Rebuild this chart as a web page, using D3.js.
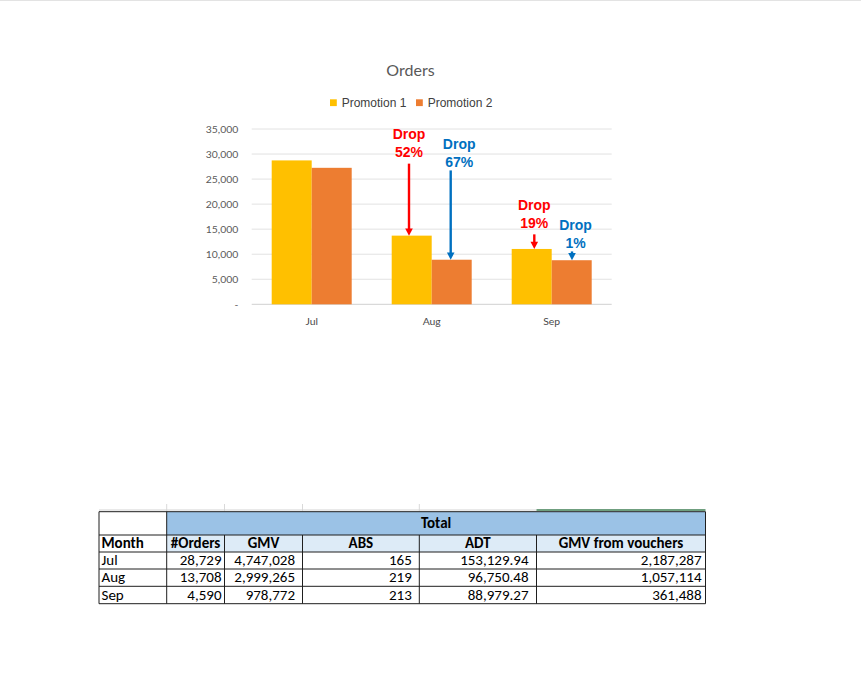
<!DOCTYPE html>
<html>
<head>
<meta charset="utf-8">
<script src="https://cdn.jsdelivr.net/npm/d3@7"></script>
<style>
  html, body { margin: 0; padding: 0; background: #fff; }
  svg { display: block; }
</style>
</head>
<body>
<svg id="c" width="861" height="696"></svg>
<script>
// ---------- DATA ----------
const months = ["Jul", "Aug", "Sep"];
const seriesNames = ["Promotion 1", "Promotion 2"];
const promo1 = [28729, 13708, 11050];
const promo2 = [27250, 8900, 8800];
const yTicks = [0, 5000, 10000, 15000, 20000, 25000, 30000, 35000];
const dropLabels1 = [null, ["Drop", "52%"], ["Drop", "19%"]];
const dropLabels2 = [null, ["Drop", "67%"], ["Drop", "1%"]];

const tableMonths = ["Jul", "Aug", "Sep"];
const tableGroup = "Total";
const tableHeaders = ["Month", "#Orders", "GMV", "ABS", "ADT", "GMV from vouchers"];
const orders = [28729, 13708, 4590];
const gmv = [4747028, 2999265, 978772];
const absVals = [165, 219, 213];
const adt = [153129.94, 96750.48, 88979.27];
const gmvVouchers = [2187287, 1057114, 361488];

// ---------- STYLE ----------
const colors = ["#FFC000", "#ED7D31"];
const annColors = ["#FF0000", "#0070C0"];
const svg = d3.select("#c");

// top page line
svg.append("line").attr("x1", 0).attr("x2", 861).attr("y1", 0.5).attr("y2", 0.5)
  .attr("stroke", "#e3e3e3").attr("stroke-width", 1);

// ---------- CHART ----------
const plotL = 251.7, plotR = 611.7, plotT = 129, plotB = 304.3;
const x = d3.scaleBand().domain(months).range([plotL, plotR]).paddingInner(1/3).paddingOuter(1/6);
const xs = d3.scaleBand().domain(seriesNames).range([0, x.bandwidth()]);
const y = d3.scaleLinear().domain([0, 35000]).range([plotB, plotT]);

// title
svg.append("text").attr("x", 410.5).attr("y", 75.7).attr("text-anchor", "middle")
  .attr("font-family", "Lato, sans-serif").attr("font-size", 16).attr("fill", "#595959")
  .text("Orders");

// legend
const leg = svg.append("g").selectAll("g").data(seriesNames).join("g")
  .attr("transform", (d, i) => `translate(${330 + i * 86},0)`);
leg.append("rect").attr("x", 0).attr("y", 99.3).attr("width", 6.8).attr("height", 6.8)
  .attr("fill", (d, i) => colors[i]);
leg.append("text").attr("x", 11.7).attr("y", 106.6)
  .attr("font-family", "'Liberation Sans', Arial, sans-serif").attr("font-size", 12)
  .attr("fill", "#404040").text(d => d);

// gridlines
svg.append("g").selectAll("line").data(yTicks).join("line")
  .attr("x1", plotL).attr("x2", plotR)
  .attr("y1", d => y(d)).attr("y2", d => y(d))
  .attr("stroke", d => d === 0 ? "#d0d0d0" : "#e2e2e2").attr("stroke-width", 1);

// y axis
const yAxis = svg.append("g").attr("transform", `translate(${plotL},0)`)
  .call(d3.axisLeft(y).tickValues(yTicks).tickSize(0).tickPadding(13.4)
    .tickFormat(d => d === 0 ? "-" : d3.format(",")(d)));
yAxis.select(".domain").remove();
yAxis.selectAll("text").attr("font-family", "Lato, sans-serif").attr("font-size", 10.4)
  .attr("fill", "#595959");

// x axis
const xAxis = svg.append("g").attr("transform", `translate(0,${plotB})`)
  .call(d3.axisBottom(x).tickSize(0).tickPadding(13.3));
xAxis.select(".domain").remove();
xAxis.selectAll("text").attr("font-family", "Lato, sans-serif").attr("font-size", 10.4)
  .attr("fill", "#4a4a4a");

// bars
const seriesData = [promo1, promo2];
const groups = svg.append("g").selectAll("g").data(months).join("g")
  .attr("transform", d => `translate(${x(d)},0)`);
groups.selectAll("rect").data((m, mi) => seriesNames.map((s, si) => ({ s, si, v: seriesData[si][mi] })))
  .join("rect")
  .attr("x", d => xs(d.s)).attr("width", xs.bandwidth())
  .attr("y", d => y(d.v)).attr("height", d => y(0) - y(d.v))
  .attr("fill", d => colors[d.si]);

// annotations (arrows + labels)
// per-annotation layout: dx of arrow from bar center, arrow length, text dx, gap
const annLayout = {
  "0-1": { adx: -2.7, len: 72.0, tdx: 0.0, gap: 6.6 },
  "1-1": { adx: -1.0, len: 89.3, tdx: 8.5, gap: 3.0 },
  "0-2": { adx: 2.6, len: 14.6, tdx: 0.0, gap: 6.7 },
  "1-2": { adx: 0.3, len: 8.8, tdx: 3.5, gap: 3.0 }
};
const annLabels = [dropLabels1, dropLabels2];
const ann = svg.append("g");
seriesNames.forEach((s, si) => {
  months.forEach((m, mi) => {
    const lab = annLabels[si][mi];
    if (!lab) return;
    const L = annLayout[si + "-" + mi];
    const cx = x(m) + xs(s) + xs.bandwidth() / 2 + L.adx;
    const tip = y(seriesData[si][mi]);
    const top = tip - L.len;
    const col = annColors[si];
    ann.append("line").attr("x1", cx).attr("x2", cx).attr("y1", top).attr("y2", tip - 6)
      .attr("stroke", col).attr("stroke-width", 2.4);
    ann.append("path")
      .attr("d", `M${cx - 3.8},${tip - 7.2}L${cx + 3.8},${tip - 7.2}L${cx},${tip}Z`)
      .attr("fill", col);
    const base2 = top - L.gap;
    const t = ann.append("text").attr("text-anchor", "middle")
      .attr("font-family", "'Liberation Sans', Arial, sans-serif").attr("font-weight", "bold")
      .attr("font-size", 14).attr("fill", col);
    t.append("tspan").attr("x", cx + L.tdx).attr("y", base2 - 18).text(lab[0]);
    t.append("tspan").attr("x", cx + L.tdx).attr("y", base2).text(lab[1]);
  });
});

// ---------- TABLE ----------
const colEdges = [99, 166.7, 224.5, 302.5, 419.3, 536.5, 705.5];
const rowEdges = [511.7, 535, 552, 569, 586.3, 603.7];
const padR = [0, 3, 7.5, 7.5, 8, 4];
const fmtInt = d3.format(",");
const fmtDec = d3.format(",.2f");
const rows = tableMonths.map((m, i) => [m, fmtInt(orders[i]), fmtInt(gmv[i]), fmtInt(absVals[i]), fmtDec(adt[i]), fmtInt(gmvVouchers[i])]);
const tb = svg.append("g");
const tFont = "Carlito, Calibri, Lato, sans-serif";
const tSize = 15;

// excel gridlines above the table
[166.7, 224.5, 302.5, 419.3].forEach(xx => {
  tb.append("line").attr("x1", xx).attr("x2", xx).attr("y1", 504).attr("y2", 511)
    .attr("stroke", "#d9d9d9");
});
tb.append("line").attr("x1", 99).attr("x2", 536.5).attr("y1", 510).attr("y2", 510)
  .attr("stroke", "#d4d4d4").attr("stroke-width", 1.2);
tb.append("line").attr("x1", 536.5).attr("x2", 705.5).attr("y1", 510).attr("y2", 510)
  .attr("stroke", "#3f7f55").attr("stroke-width", 1.4);

// fills
tb.append("rect").attr("x", colEdges[1]).attr("y", rowEdges[0])
  .attr("width", colEdges[6] - colEdges[1]).attr("height", rowEdges[1] - rowEdges[0])
  .attr("fill", "#9BC2E6");
tb.append("rect").attr("x", colEdges[1]).attr("y", rowEdges[1])
  .attr("width", colEdges[6] - colEdges[1]).attr("height", rowEdges[2] - rowEdges[1])
  .attr("fill", "#DDEBF7");

// borders
const bc = "#1f1f1f";
rowEdges.forEach(yy => {
  tb.append("line").attr("x1", colEdges[0]).attr("x2", colEdges[6]).attr("y1", yy).attr("y2", yy)
    .attr("stroke", bc).attr("stroke-width", 1);
});
colEdges.forEach((xx, ci) => {
  const inner = ci > 1 && ci < 6;
  tb.append("line").attr("x1", xx).attr("x2", xx)
    .attr("y1", inner ? rowEdges[1] : rowEdges[0]).attr("y2", rowEdges[5])
    .attr("stroke", bc).attr("stroke-width", 1);
});

// group header
tb.append("text").attr("x", (colEdges[1] + colEdges[6]) / 2).attr("y", rowEdges[1] - 7.5)
  .attr("text-anchor", "middle").attr("font-family", tFont).attr("font-weight", "bold")
  .attr("font-size", tSize).attr("fill", "#000").text(tableGroup);

// column headers
tableHeaders.forEach((h, ci) => {
  const first = ci === 0;
  tb.append("text")
    .attr("x", first ? colEdges[0] + 2.5 : (colEdges[ci] + colEdges[ci + 1]) / 2)
    .attr("y", rowEdges[2] - 4.3)
    .attr("text-anchor", first ? "start" : "middle")
    .attr("font-family", tFont).attr("font-weight", "bold").attr("font-size", tSize)
    .attr("fill", "#000").text(h);
});

// body
rows.forEach((r, ri) => {
  r.forEach((v, ci) => {
    const first = ci === 0;
    tb.append("text")
      .attr("x", first ? colEdges[0] + 2.5 : colEdges[ci + 1] - padR[ci])
      .attr("y", rowEdges[ri + 3] - 4.2)
      .attr("text-anchor", first ? "start" : "end")
      .attr("font-family", tFont).attr("font-size", tSize).attr("fill", "#000").text(v);
  });
});
</script>
</body>
</html>
